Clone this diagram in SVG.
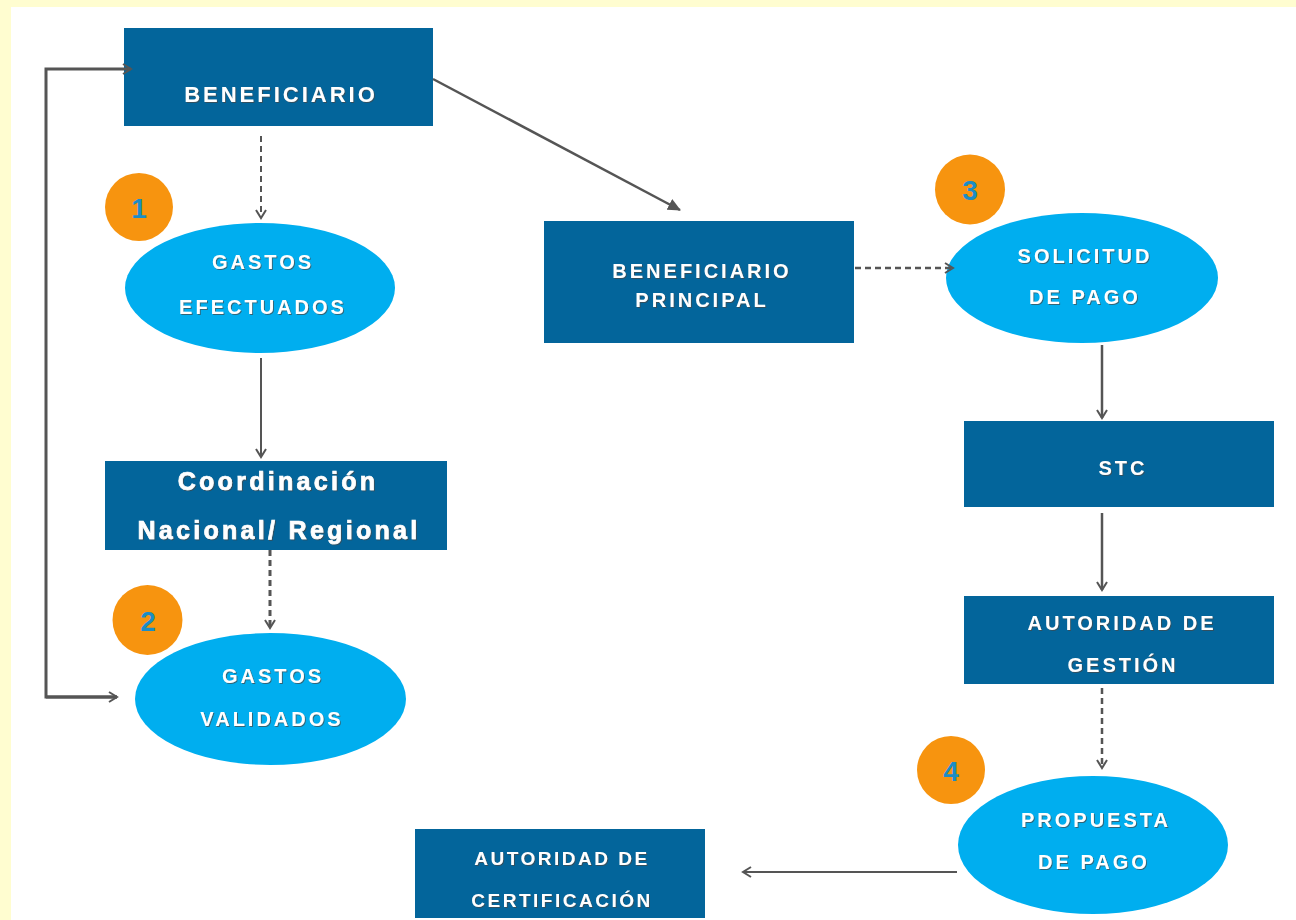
<svg xmlns="http://www.w3.org/2000/svg" width="1296" height="920" viewBox="0 0 1296 920">
<defs>
<style>
.box{fill:#03659b;}
.ell{fill:#00aeef;}
.badge{fill:#f7940f;}
.num{font-family:"Liberation Sans",Arial,sans-serif;font-weight:bold;font-size:28px;fill:#1b8dc6;text-anchor:middle;}
.bt{font-family:"Liberation Sans",Arial,sans-serif;font-weight:bold;font-size:20px;letter-spacing:3px;fill:#ffffff;text-anchor:middle;filter:url(#sh);}
.et{font-family:"Liberation Sans",Arial,sans-serif;font-weight:bold;font-size:20px;letter-spacing:3px;fill:#ffffff;text-anchor:middle;filter:url(#sh);}
.ct{font-family:"Liberation Sans",Arial,sans-serif;font-weight:bold;font-size:25px;letter-spacing:3.3px;fill:#ffffff;stroke:#ffffff;stroke-width:0.7;text-anchor:middle;filter:url(#sh);}
.ln{fill:none;stroke:#555555;stroke-width:2;}
.dash{stroke-dasharray:6 4;}
</style>
<filter id="sh" x="-10%" y="-30%" width="120%" height="160%">
<feDropShadow dx="1" dy="1" stdDeviation="0.6" flood-color="#444" flood-opacity="0.7"/>
</filter>
<marker id="ah" markerWidth="12" markerHeight="12" refX="10" refY="6" orient="auto" markerUnits="userSpaceOnUse">
<path d="M2,1 L10,6 L2,11" fill="none" stroke="#555" stroke-width="2"/>
</marker>
<marker id="af" markerWidth="14" markerHeight="12" refX="12" refY="6" orient="auto" markerUnits="userSpaceOnUse">
<path d="M0,0 L13,6 L0,12 z" fill="#555"/>
</marker>
</defs>
<rect x="0" y="0" width="1296" height="920" fill="#fffdd0"/>
<rect x="11" y="7" width="1285" height="913" fill="#ffffff"/>

<g id="beneficiario">
<rect class="box" x="124" y="28" width="309" height="98"/>
<text class="bt" x="281" y="102" style="font-size:22px">BENEFICIARIO</text>
</g>

<g id="badge1">
<circle class="badge" cx="139" cy="207" r="34"/>
<text class="num" x="139" y="218">1</text>
</g>

<g id="gastos-efectuados">
<ellipse class="ell" cx="260" cy="288" rx="135" ry="65"/>
<text class="et" x="263" y="269">GASTOS</text>
<text class="et" x="263" y="314">EFECTUADOS</text>
</g>

<g id="coordinacion">
<rect class="box" x="105" y="461" width="342" height="89"/>
<text class="ct" x="278" y="490">Coordinación</text>
<text class="ct" x="279" y="539">Nacional/ Regional</text>
</g>

<g id="badge2">
<circle class="badge" cx="147.5" cy="620" r="35"/>
<text class="num" x="148" y="631">2</text>
</g>

<g id="gastos-validados">
<ellipse class="ell" cx="270.5" cy="699" rx="135.5" ry="66"/>
<text class="et" x="273" y="683">GASTOS</text>
<text class="et" x="272" y="726">VALIDADOS</text>
</g>

<g id="beneficiario-principal">
<rect class="box" x="544" y="221" width="310" height="122"/>
<text class="bt" x="702" y="278">BENEFICIARIO</text>
<text class="bt" x="702" y="307">PRINCIPAL</text>
</g>

<g id="badge3">
<circle class="badge" cx="970" cy="189.5" r="35"/>
<text class="num" x="970" y="200">3</text>
</g>

<g id="solicitud-pago">
<ellipse class="ell" cx="1082" cy="278" rx="136" ry="65"/>
<text class="et" x="1085" y="263">SOLICITUD</text>
<text class="et" x="1085" y="304">DE PAGO</text>
</g>

<g id="stc">
<rect class="box" x="964" y="421" width="310" height="86"/>
<text class="bt" x="1123" y="475">STC</text>
</g>

<g id="autoridad-gestion">
<rect class="box" x="964" y="596" width="310" height="88"/>
<text class="bt" x="1122" y="630">AUTORIDAD DE</text>
<text class="bt" x="1123" y="672">GESTIÓN</text>
</g>

<g id="badge4">
<circle class="badge" cx="951" cy="770" r="34"/>
<text class="num" x="951" y="781">4</text>
</g>

<g id="propuesta-pago">
<ellipse class="ell" cx="1093" cy="845" rx="135" ry="69"/>
<text class="et" x="1096" y="827">PROPUESTA</text>
<text class="et" x="1094" y="869">DE PAGO</text>
</g>

<g id="autoridad-certificacion">
<rect class="box" x="415" y="829" width="290" height="89"/>
<text class="bt" x="562" y="865" style="font-size:19px;letter-spacing:2.5px">AUTORIDAD DE</text>
<text class="bt" x="562" y="907" style="font-size:19px;letter-spacing:2.5px">CERTIFICACIÓN</text>
</g>

<g id="connectors">
<path class="ln" d="M117,697 L46,697 L46,69 L131,69" style="stroke-width:3" marker-end="url(#ah)"/>
<line class="ln" x1="46" y1="697" x2="117" y2="697" style="stroke-width:3" marker-end="url(#ah)"/>
<line class="ln dash" x1="261" y1="136" x2="261" y2="218" marker-end="url(#ah)"/>
<line class="ln" x1="261" y1="358" x2="261" y2="457" marker-end="url(#ah)"/>
<line class="ln dash" x1="270" y1="550" x2="270" y2="628" style="stroke-width:3" marker-end="url(#ah)"/>
<line class="ln" x1="433" y1="79" x2="680" y2="210" style="stroke-width:2.5" marker-end="url(#af)"/>
<line class="ln dash" x1="855" y1="268" x2="953" y2="268" style="stroke-width:2.5" marker-end="url(#ah)"/>
<line class="ln" x1="1102" y1="345" x2="1102" y2="418" style="stroke-width:2.5" marker-end="url(#ah)"/>
<line class="ln" x1="1102" y1="513" x2="1102" y2="590" style="stroke-width:2.5" marker-end="url(#ah)"/>
<line class="ln dash" x1="1102" y1="688" x2="1102" y2="768" style="stroke-width:2.5" marker-end="url(#ah)"/>
<line class="ln" x1="957" y1="872" x2="743" y2="872" marker-end="url(#ah)"/>
</g>
</svg>
